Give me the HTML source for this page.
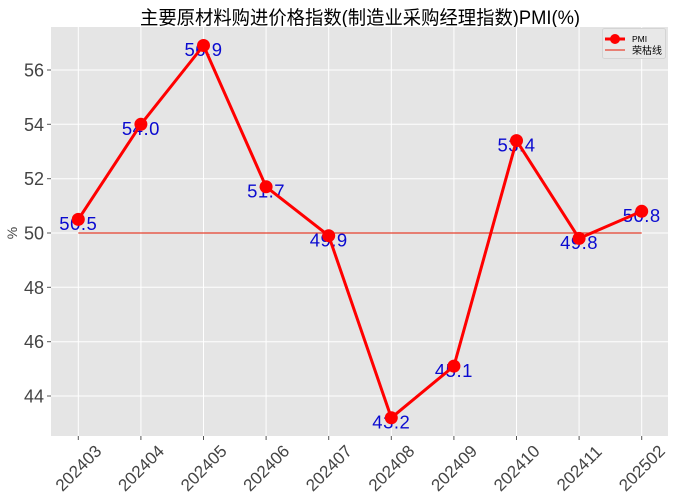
<!DOCTYPE html>
<html>
<head>
<meta charset="utf-8">
<style>
html,body{margin:0;padding:0;background:#fff;}
svg{display:block;}
</style>
</head>
<body>
<svg width="676" height="500" viewBox="0 0 676 500" xmlns="http://www.w3.org/2000/svg">
  <rect x="0" y="0" width="676" height="500" fill="#ffffff"/>
  <!-- title -->
  <text x="360" y="24" text-anchor="middle" font-family="'Liberation Sans','Noto Sans CJK SC',sans-serif" font-size="19" fill="#000" textLength="440" lengthAdjust="spacingAndGlyphs">主要原材料购进价格指数(制造业采购经理指数)PMI(%)</text>

  <!-- axes background -->
  <rect x="51" y="27" width="617" height="409" fill="#e5e5e5"/>

  <!-- grid lines -->
  <g stroke="#ffffff" stroke-width="1">
    <line x1="51" x2="668" y1="70" y2="70"/>
    <line x1="51" x2="668" y1="124.3" y2="124.3"/>
    <line x1="51" x2="668" y1="178.7" y2="178.7"/>
    <line x1="51" x2="668" y1="233" y2="233"/>
    <line x1="51" x2="668" y1="287.3" y2="287.3"/>
    <line x1="51" x2="668" y1="341.7" y2="341.7"/>
    <line x1="51" x2="668" y1="396" y2="396"/>
    <line y1="27" y2="436" x1="78.3" x2="78.3"/>
    <line y1="27" y2="436" x1="140.9" x2="140.9"/>
    <line y1="27" y2="436" x1="203.5" x2="203.5"/>
    <line y1="27" y2="436" x1="266.1" x2="266.1"/>
    <line y1="27" y2="436" x1="328.7" x2="328.7"/>
    <line y1="27" y2="436" x1="391.3" x2="391.3"/>
    <line y1="27" y2="436" x1="453.9" x2="453.9"/>
    <line y1="27" y2="436" x1="516.5" x2="516.5"/>
    <line y1="27" y2="436" x1="579.1" x2="579.1"/>
    <line y1="27" y2="436" x1="641.7" x2="641.7"/>
  </g>

  <!-- tick marks -->
  <g stroke="#555" stroke-width="1">
    <line x1="47" x2="51" y1="70" y2="70"/>
    <line x1="47" x2="51" y1="124.3" y2="124.3"/>
    <line x1="47" x2="51" y1="178.7" y2="178.7"/>
    <line x1="47" x2="51" y1="233" y2="233"/>
    <line x1="47" x2="51" y1="287.3" y2="287.3"/>
    <line x1="47" x2="51" y1="341.7" y2="341.7"/>
    <line x1="47" x2="51" y1="396" y2="396"/>
    <line y1="436" y2="440" x1="78.3" x2="78.3"/>
    <line y1="436" y2="440" x1="140.9" x2="140.9"/>
    <line y1="436" y2="440" x1="203.5" x2="203.5"/>
    <line y1="436" y2="440" x1="266.1" x2="266.1"/>
    <line y1="436" y2="440" x1="328.7" x2="328.7"/>
    <line y1="436" y2="440" x1="391.3" x2="391.3"/>
    <line y1="436" y2="440" x1="453.9" x2="453.9"/>
    <line y1="436" y2="440" x1="516.5" x2="516.5"/>
    <line y1="436" y2="440" x1="579.1" x2="579.1"/>
    <line y1="436" y2="440" x1="641.7" x2="641.7"/>
  </g>

  <!-- y tick labels -->
  <g font-family="'Liberation Sans',sans-serif" font-size="18" fill="#444" text-anchor="end">
    <text x="44" y="76.5">56</text>
    <text x="44" y="130.8">54</text>
    <text x="44" y="185.2">52</text>
    <text x="44" y="239.5">50</text>
    <text x="44" y="293.8">48</text>
    <text x="44" y="348.2">46</text>
    <text x="44" y="402.5">44</text>
  </g>

  <!-- y label -->
  <text transform="translate(17,233) rotate(-90)" text-anchor="middle" font-family="'Liberation Sans',sans-serif" font-size="14" fill="#444">%</text>

  <!-- x tick labels -->
  <g font-family="'Liberation Sans',sans-serif" font-size="17" fill="#444" text-anchor="middle">
    <text transform="translate(78.3,468) rotate(-45)" dy="6">202403</text>
    <text transform="translate(140.9,468) rotate(-45)" dy="6">202404</text>
    <text transform="translate(203.5,468) rotate(-45)" dy="6">202405</text>
    <text transform="translate(266.1,468) rotate(-45)" dy="6">202406</text>
    <text transform="translate(328.7,468) rotate(-45)" dy="6">202407</text>
    <text transform="translate(391.3,468) rotate(-45)" dy="6">202408</text>
    <text transform="translate(453.9,468) rotate(-45)" dy="6">202409</text>
    <text transform="translate(516.5,468) rotate(-45)" dy="6">202410</text>
    <text transform="translate(579.1,468) rotate(-45)" dy="6">202411</text>
    <text transform="translate(641.7,468) rotate(-45)" dy="6">202502</text>
  </g>

  <!-- reference line 荣枯线 -->
  <line x1="78.3" x2="641.7" y1="233" y2="233" stroke="#e8402f" stroke-width="1.2"/>

  <!-- value labels -->
  <g font-family="'Liberation Sans',sans-serif" font-size="18.5" fill="#0a0ad0" text-anchor="middle" letter-spacing="0.5">
    <text x="78.3" y="230.1">50.5</text>
    <text x="140.9" y="135">54.0</text>
    <text x="203.5" y="56.2">56.9</text>
    <text x="266.1" y="197.5">51.7</text>
    <text x="328.7" y="246.4">49.9</text>
    <text x="391.3" y="428.5">43.2</text>
    <text x="453.9" y="376.8">45.1</text>
    <text x="516.5" y="151.3">53.4</text>
    <text x="579.1" y="249.1">49.8</text>
    <text x="641.7" y="222">50.8</text>
  </g>

  <!-- PMI line -->
  <polyline fill="none" stroke="#ff0000" stroke-width="3" stroke-linejoin="round"
    points="78.3,219.4 140.9,124.3 203.5,45.5 266.1,186.8 328.7,235.7 391.3,417.8 453.9,366.1 516.5,140.6 579.1,238.4 641.7,211.3"/>
  <g fill="#ff0000">
    <circle cx="78.3" cy="219.4" r="6.5"/>
    <circle cx="140.9" cy="124.3" r="6.5"/>
    <circle cx="203.5" cy="45.5" r="6.5"/>
    <circle cx="266.1" cy="186.8" r="6.5"/>
    <circle cx="328.7" cy="235.7" r="6.5"/>
    <circle cx="391.3" cy="417.8" r="6.5"/>
    <circle cx="453.9" cy="366.1" r="6.5"/>
    <circle cx="516.5" cy="140.6" r="6.5"/>
    <circle cx="579.1" cy="238.4" r="6.5"/>
    <circle cx="641.7" cy="211.3" r="6.5"/>
  </g>

  <!-- legend -->
  <rect x="602.5" y="28.5" width="63" height="30" rx="2" fill="#e8e8e8" stroke="#d4d4d4" stroke-width="1"/>
  <line x1="605" x2="625" y1="39" y2="39" stroke="#ff0000" stroke-width="3"/>
  <circle cx="615" cy="39" r="5" fill="#ff0000"/>
  <text x="632" y="42" font-family="'Liberation Sans',sans-serif" font-size="8.5" fill="#000">PMI</text>
  <line x1="605" x2="625" y1="50" y2="50" stroke="#e8402f" stroke-width="1.2"/>
  <text x="632" y="54" font-family="'Liberation Sans','Noto Sans CJK SC',sans-serif" font-size="10" fill="#000">荣枯线</text>
</svg>
</body>
</html>
